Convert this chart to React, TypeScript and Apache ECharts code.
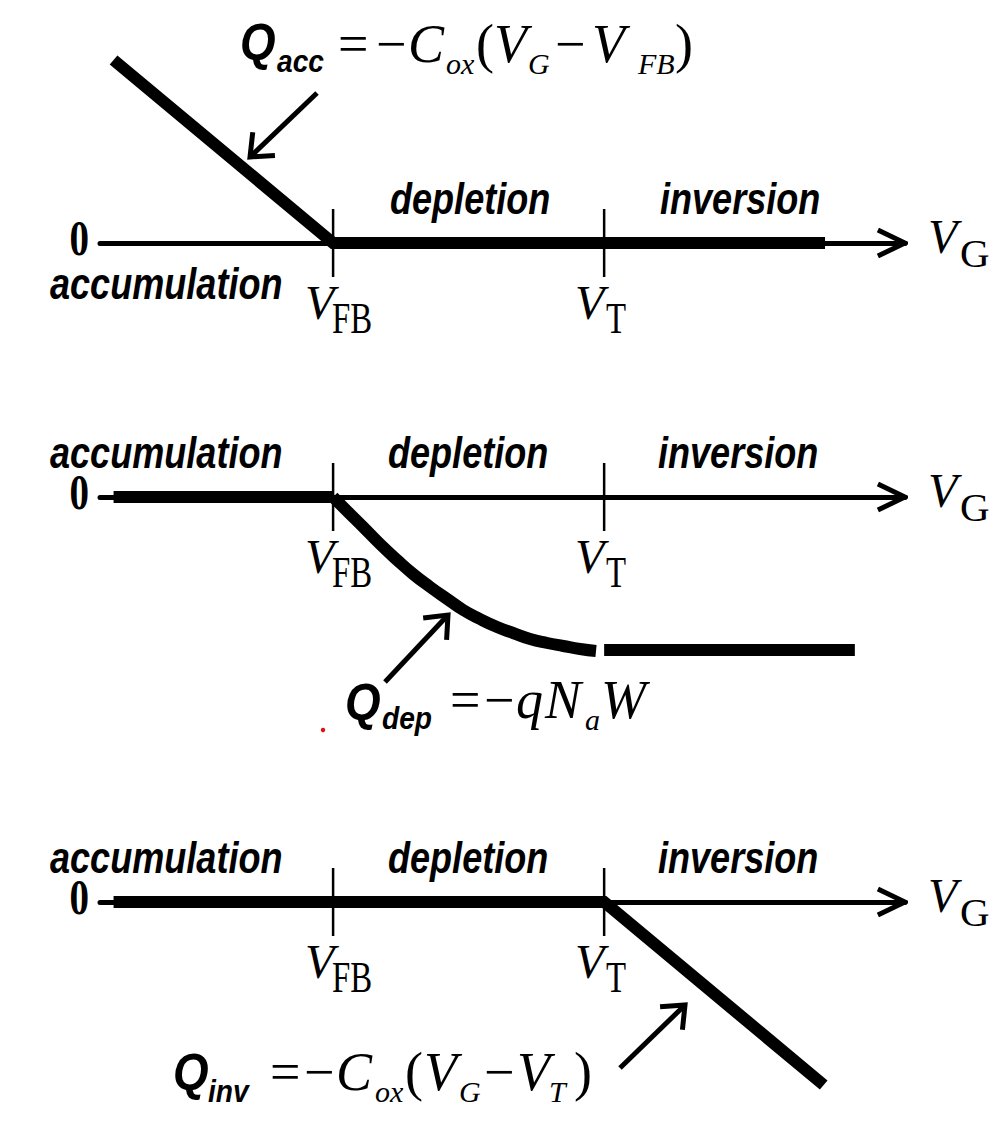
import React, { useEffect, useRef } from "react";
import * as echarts from "echarts";

// ---- axis definitions (gate voltage, arbitrary units: VFB = 0, VT = 1) ----
const VFB = 0;
const VT = 1;
const X_MIN = -0.86;
const X_MAX = 2.11;
const Y_RANGES: [number, number][] = [
  [-1, 2],
  [-2, 0.5],
  [-2, 0.5],
];

// ---- panel 1: accumulation charge ----
const accCharge: [number, number][] = [
  [-0.81, 1.83],
  [0, 0],
  [1.815, 0],
];

// ---- panel 2: depletion charge ----
const depLeft: [number, number][] = [
  [-0.81, 0],
  [0, 0],
];
const depCurve: [number, number][] = [
  [0, 0],
  [0.055, -0.15],
  [0.111, -0.3],
  [0.173, -0.47],
  [0.236, -0.63],
  [0.295, -0.77],
  [0.358, -0.9],
  [0.421, -1.02],
  [0.48, -1.13],
  [0.542, -1.22],
  [0.605, -1.3],
  [0.664, -1.36],
  [0.727, -1.42],
  [0.79, -1.46],
  [0.849, -1.49],
  [0.911, -1.52],
  [0.97, -1.54],
];
const depRight: [number, number][] = [
  [1.0, -1.53],
  [1.925, -1.53],
];

// ---- panel 3: inversion charge ----
const invCharge: [number, number][] = [
  [-0.81, 0],
  [1, 0],
  [1.81, -1.83],
];

const TICK_HALF = 0.34;
const AXIS_Y = [243, 497, 902];

const SERIF = '"Liberation Serif", "Times New Roman", serif';
const SANS = '"Liberation Sans", Arial, sans-serif';

type El = any;

function txt(
  text: string,
  x: number,
  baseline: number,
  font: string,
  size: number,
  scaleX = 1,
  align: "left" | "right" | "center" = "left"
): El {
  return {
    type: "text",
    x,
    y: baseline - size * 0.34,
    scaleX,
    silent: true,
    style: {
      text,
      font: `${font.replace("SIZE", size + "px")}`,
      fill: "#000",
      align,
      textAlign: align,
      verticalAlign: "middle",
      textVerticalAlign: "middle",
    },
  };
}

const serifIt = (t: string, x: number, b: number, s: number, sx = 1) =>
  txt(t, x, b, `italic SIZE ${SERIF}`, s, sx);
const serifUp = (t: string, x: number, b: number, s: number, sx = 1) =>
  txt(t, x, b, `SIZE ${SERIF}`, s, sx);
const sansBI = (t: string, x: number, b: number, s: number, sx = 0.82) =>
  txt(t, x, b, `italic bold SIZE ${SANS}`, s, sx);
const minus = (x: number, b: number) => serifUp("\u2212", x, b, 54);

function arrow(x1: number, y1: number, x2: number, y2: number): El[] {
  const ang = Math.atan2(y1 - y2, x1 - x2);
  const len = 25;
  const spread = (40 * Math.PI) / 180;
  const a1 = [x2 + len * Math.cos(ang - spread), y2 + len * Math.sin(ang - spread)];
  const a2 = [x2 + len * Math.cos(ang + spread), y2 + len * Math.sin(ang + spread)];
  const st = { stroke: "#000", lineWidth: 5, fill: null, lineJoin: "miter", lineCap: "butt" };
  return [
    { type: "line", silent: true, shape: { x1, y1, x2, y2 }, style: st },
    { type: "polyline", silent: true, shape: { points: [a1, [x2, y2], a2] }, style: st },
  ];
}

function panelLabels(i: number, regionsAbove: boolean): El[] {
  const a = AXIS_Y[i];
  const els: El[] = [];
  const rb = a - 29;
  els.push(sansBI("depletion", regionsAbove ? 388 : 390, rb, 44));
  els.push(sansBI("inversion", regionsAbove ? 658 : 660, rb, 44));
  els.push(sansBI("accumulation", 50, regionsAbove ? rb : a + 56, 44));
  els.push(txt("0", 89, a + 12, `bold SIZE ${SERIF}`, 50, 0.78, "right"));
  els.push(serifIt("V", 928, a + 10, 48));
  els.push(serifUp("G", 960, a + 24, 41));
  els.push(serifIt("V", 305, a + 76, 48));
  els.push(serifUp("FB", 332, a + 90, 45, 0.73));
  els.push(serifIt("V", 575, a + 76, 48));
  els.push(serifUp("T", 606, a + 90, 45, 0.73));
  return els;
}

const graphicEls: El[] = [
  ...panelLabels(0, false),
  ...panelLabels(1, true),
  ...panelLabels(2, true),
  // formula 1
  sansBI("Q", 240, 60, 52, 0.88),
  sansBI("acc", 277, 72, 32, 0.88),
  serifUp("=", 338, 62, 54),
  minus(376, 62),
  serifIt("C", 408, 62, 54),
  serifIt("ox", 446, 74, 30),
  serifUp("(", 476, 62, 54),
  serifIt("V", 494, 62, 54),
  serifIt("G", 528, 74, 30),
  minus(555, 62),
  serifIt("V", 592, 62, 54),
  serifIt("FB", 638, 74, 30),
  serifUp(")", 675, 62, 54),
  ...arrow(317, 93, 250, 157),
  // formula 2
  sansBI("Q", 345, 720, 52, 0.88),
  sansBI("dep", 382, 729, 32, 0.88),
  serifUp("=", 450, 718, 54),
  minus(484, 718),
  serifIt("q", 516, 718, 54),
  serifIt("N", 545, 718, 54),
  serifIt("a", 585, 730, 30),
  serifIt("W", 601, 718, 54),
  ...arrow(385, 682, 448, 615),
  // formula 3
  sansBI("Q", 173, 1090, 52, 0.88),
  sansBI("inv", 208, 1102, 32, 0.88),
  serifUp("=", 270, 1090, 54),
  minus(304, 1090),
  serifIt("C", 336, 1090, 54),
  serifIt("ox", 375, 1102, 30),
  serifUp("(", 405, 1090, 54),
  serifIt("V", 424, 1090, 54),
  serifIt("G", 459, 1102, 30),
  minus(484, 1090),
  serifIt("V", 517, 1090, 54),
  serifIt("T", 549, 1102, 30),
  serifUp(")", 574, 1090, 54),
  ...arrow(620, 1068, 685, 1005),
  {
    type: "circle",
    silent: true,
    shape: { cx: 323, cy: 730, r: 2.2 },
    style: { fill: "#e01010" },
  },
];

function lineSeries(i: number, data: [number, number][], width: number, extra: any = {}) {
  return {
    type: "line",
    xAxisIndex: i,
    yAxisIndex: i,
    data,
    symbol: "none",
    silent: true,
    clip: false,
    lineStyle: { color: "#000", width, cap: "butt", join: "miter" },
    z: 3,
    ...extra,
  };
}

const series: any[] = [];
for (let i = 0; i < 3; i++) {
  series.push(lineSeries(i, [[VFB, TICK_HALF], [VFB, -TICK_HALF]], 2.5));
  series.push(lineSeries(i, [[VT, TICK_HALF], [VT, -TICK_HALF]], 2.5));
  series.push(
    lineSeries(i, [[X_MAX - 0.1, 0.13], [X_MAX, 0], [X_MAX - 0.1, -0.13]], 5)
  );
}
series.push(lineSeries(0, accCharge, 12));
series.push(lineSeries(1, depLeft, 12));
series.push(lineSeries(1, depCurve, 12, { smooth: 0.5 }));
series.push(lineSeries(1, depRight, 12));
series.push(lineSeries(2, invCharge, 12));

const GRID_TOPS = [43, 447, 852];
const GRID_HEIGHTS = [300, 250, 250];

const option: any = {
  animation: false,
  backgroundColor: "#fff",
  grid: GRID_TOPS.map((top, i) => ({
    left: 100,
    top,
    width: 805,
    height: GRID_HEIGHTS[i],
    containLabel: false,
  })),
  xAxis: [0, 1, 2].map((i) => ({
    type: "value",
    gridIndex: i,
    min: X_MIN,
    max: X_MAX,
    axisLine: { show: true, onZero: true, lineStyle: { color: "#000", width: 5 } },
    axisTick: { show: false },
    axisLabel: { show: false },
    splitLine: { show: false },
  })),
  yAxis: [0, 1, 2].map((i) => ({
    type: "value",
    gridIndex: i,
    min: Y_RANGES[i][0],
    max: Y_RANGES[i][1],
    axisLine: { show: false },
    axisTick: { show: false },
    axisLabel: { show: false },
    splitLine: { show: false },
  })),
  series,
  graphic: { elements: graphicEls },
};

export default function App() {
  const ref = useRef<HTMLDivElement>(null);
  useEffect(() => {
    const chart = echarts.init(ref.current!, null, { renderer: "svg" });
    chart.setOption(option);
    return () => chart.dispose();
  }, []);
  return (
    <div
      ref={ref}
      style={{ position: "absolute", left: 0, top: 0, width: 995, height: 1121, background: "#fff" }}
    />
  );
}
